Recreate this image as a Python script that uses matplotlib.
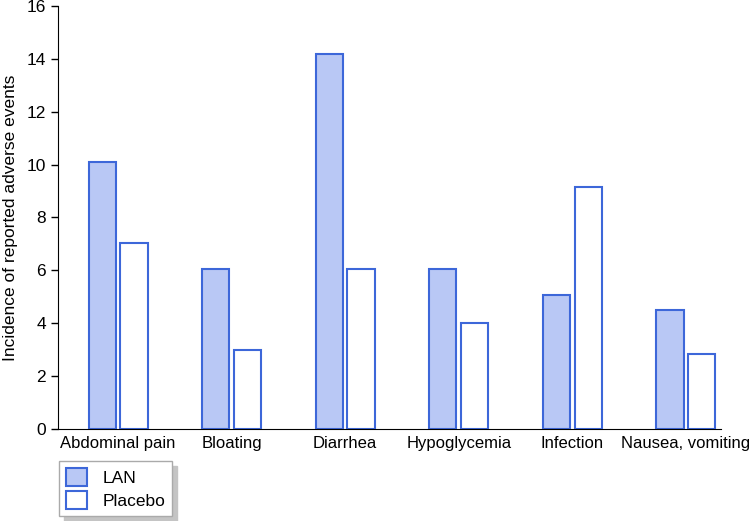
import matplotlib.pyplot as plt
import numpy as np
from matplotlib.patches import Patch

categories = ['Abdominal pain', 'Bloating', 'Diarrhea', 'Hypoglycemia', 'Infection', 'Nausea, vomiting']
lan = [10.1, 6.05, 14.2, 6.05, 5.05, 4.5]
placebo = [7.05, 3.0, 6.05, 4.0, 9.15, 2.85]

plt.rcParams['font.family'] = ['Liberation Sans', 'DejaVu Sans']

fill_col = '#b9c8f5'
edge_col = '#3d67d9'

fig = plt.figure(figsize=(7.5, 5.21), dpi=100)
ax = fig.add_axes([0.0773, 0.1766, 0.884, 0.812])

x = np.arange(len(categories))
w = 0.24
ax.bar(x - 0.14, lan, w, color=fill_col, edgecolor=edge_col, linewidth=1.5)
ax.bar(x + 0.14, placebo, w, color='white', edgecolor=edge_col, linewidth=1.5)

ax.set_xlim(-0.53, 5.31)
ax.set_ylim(0, 16)
ax.set_yticks(range(0, 17, 2))
ax.set_xticks(x)
ax.set_xticklabels(categories, fontsize=12)
ax.tick_params(axis='y', labelsize=12.5, length=5, width=1)
ax.tick_params(axis='x', length=0, pad=5)
ax.set_ylabel('Incidence of reported adverse events', fontsize=12.5, labelpad=6)

ax.spines['top'].set_visible(False)
ax.spines['right'].set_visible(False)

handles = [Patch(facecolor=fill_col, edgecolor=edge_col, linewidth=1.5, label='LAN'),
           Patch(facecolor='white', edgecolor=edge_col, linewidth=1.5, label='Placebo')]
leg = fig.legend(handles=handles, loc='upper left', bbox_to_anchor=(0.079, 0.115),
                 fancybox=False, shadow={'color': '#c4c4c4', 'alpha': 1, 'ox': 3.5, 'oy': -3.5},
                 fontsize=12.5, handlelength=1.2, handleheight=1.2, borderpad=0.4,
                 labelspacing=0.3, handletextpad=0.9, borderaxespad=0)
leg.get_frame().set_edgecolor('#aaaaaa')
leg.get_frame().set_linewidth(1)

fig.savefig('out.png', dpi=100)
